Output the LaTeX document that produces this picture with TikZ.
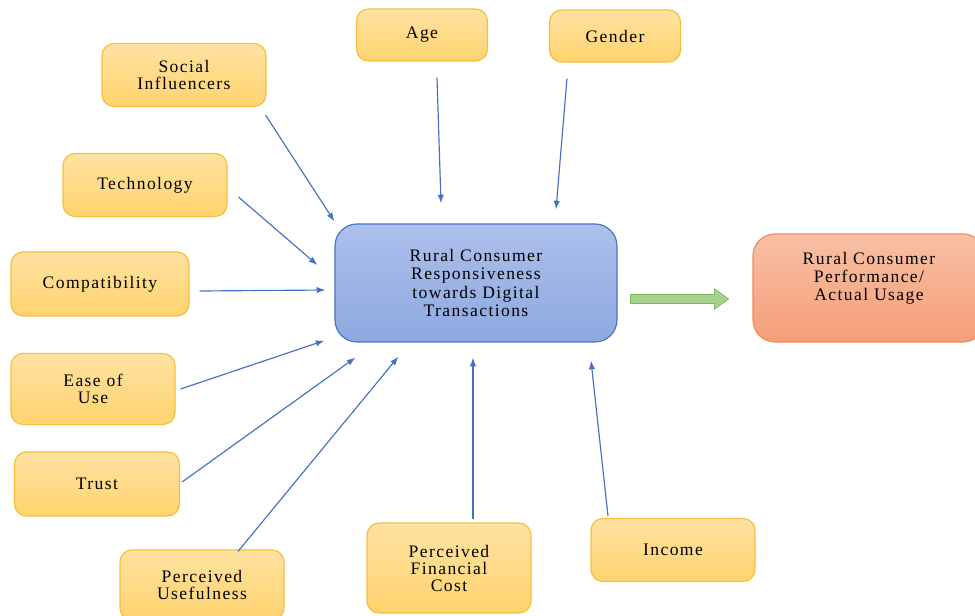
\documentclass[tikz,border=0pt]{standalone}
\usepackage{fontspec}
\setmainfont{Liberation Serif}[LetterSpace=8]
\usetikzlibrary{arrows.meta,positioning,calc}
\definecolor{BoxTop}{HTML}{FFE2A2}
\definecolor{BoxBot}{HTML}{FFD36E}
\definecolor{BoxRule}{HTML}{F5BF3C}
\definecolor{CoreTop}{HTML}{ADC0EB}
\definecolor{CoreBot}{HTML}{8EA8E0}
\definecolor{CoreRule}{HTML}{4A72C4}
\definecolor{OutTop}{HTML}{F8C0A4}
\definecolor{OutBot}{HTML}{F49E78}
\definecolor{OutRule}{HTML}{EE8A5E}
\definecolor{LinkBlue}{HTML}{4472C4}
\definecolor{FlowGreen}{HTML}{A9D18E}
\definecolor{FlowRule}{HTML}{7DB85C}
\tikzset{
  factor/.style={rectangle,rounded corners=3.6mm,draw=BoxRule,line width=0.35mm,
    top color=BoxTop,bottom color=BoxBot,align=center,inner sep=1pt,
    font=\fontsize{15}{14.5}\selectfont,minimum width=49.2mm,minimum height=18.9mm},
  corebox/.style={rectangle,rounded corners=6.6mm,draw=CoreRule,line width=0.35mm,
    top color=CoreTop,bottom color=CoreBot,align=center,
    font=\fontsize{15}{15.5}\selectfont,minimum width=84.6mm,minimum height=35.4mm},
  outbox/.style={rectangle,rounded corners=6.6mm,draw=OutRule,line width=0.35mm,
    top color=OutTop,bottom color=OutBot,minimum width=69.6mm,minimum height=32.4mm},
  link/.style={draw=LinkBlue,line width=0.35mm,-{Latex[length=2.6mm,width=1.9mm]}},
  flowrim/.style={draw=FlowRule,line width=3.1mm,-{Triangle[length=4.6mm,width=6.2mm]}},
  flow/.style={draw=FlowGreen,line width=2.5mm,shorten >=0.45mm,shorten <=0.3mm,
    -{Triangle[length=3.9mm,width=5.3mm]}}
}
\begin{document}
\begin{tikzpicture}[x=0.3mm,y=-0.3mm]
  \useasboundingbox (0,0) rectangle (975,615);
  % central construct and outcome
  \node[corebox] (core) at (476,283) {Rural Consumer\\Responsiveness\\towards Digital\\Transactions};
  \node[outbox] (out) at (869,288) {};
  \node[align=center,anchor=north,font=\fontsize{15}{15.5}\selectfont,inner sep=0pt]
    (outlbl) at ([yshift=-16]out.north) {Rural Consumer\\Performance/\\Actual Usage};
  % factors
  \node[factor] (soc) at (184,75) {Social\\Influencers};
  \node[factor,minimum width=39.3mm,minimum height=15.6mm] (age) at (422,35) {Age};
  \node[factor,minimum width=39.3mm,minimum height=15.6mm] (gen) at (615,36) {Gender};
  \node[factor] (tech) at (145,185) {Technology};
  \node[factor,minimum width=53.4mm,minimum height=19.2mm] (comp) at (100,284) {Compatibility};
  \node[factor,minimum height=21.3mm] (ease) at (93,389) {Ease of\\Use};
  \node[factor,minimum width=49.5mm,minimum height=19.2mm] (trust) at (97,484) {Trust};
  \node[factor,minimum height=21mm] (pu) at (202,585) {Perceived\\Usefulness};
  \node[factor,minimum height=27mm] (pfc) at (449,568) {Perceived\\Financial\\Cost};
  \node[factor] (inc) at (673,550) {Income};
  % links into the core
  \draw[link] ([shift={(-1,8)}]soc.south east) -- ([shift={(0,-2)}]core.north west);
  \draw[link] ([shift={(15,16)}]age.south) -- ([shift={(-35,-20)}]core.north);
  \draw[link] ([shift={(-48,16)}]gen.south) -- ([shift={(80,-14)}]core.north);
  \draw[link] ([shift={(11,-20)}]tech.south east) -- ([shift={(-17,-18)}]core.west);
  \draw[link] ([shift={(10,7)}]comp.east) -- ([shift={(-9,7)}]core.west);
  \draw[link] ([shift={(5,0)}]ease.east) -- ([shift={(-10,-2)}]core.south west);
  \draw[link] ([shift={(2,-2)}]trust.east) -- ([shift={(21,15)}]core.south west);
  \draw[link] ([shift={(36,2)}]pu.north) -- ([shift={(64,14)}]core.south west);
  \draw[link] ([shift={(24,-3)}]pfc.north) -- ([shift={(-3,15)}]core.south);
  \draw[link] ([shift={(-65,-2)}]inc.north) -- ([shift={(115,18)}]core.south);
  % outcome arrow
  \draw[flowrim] ([shift={(12,16)}]core.east) -- ([shift={(-23,11)}]out.west);
  \draw[flow] ([shift={(12,16)}]core.east) -- ([shift={(-23,11)}]out.west);
\end{tikzpicture}
\end{document}
